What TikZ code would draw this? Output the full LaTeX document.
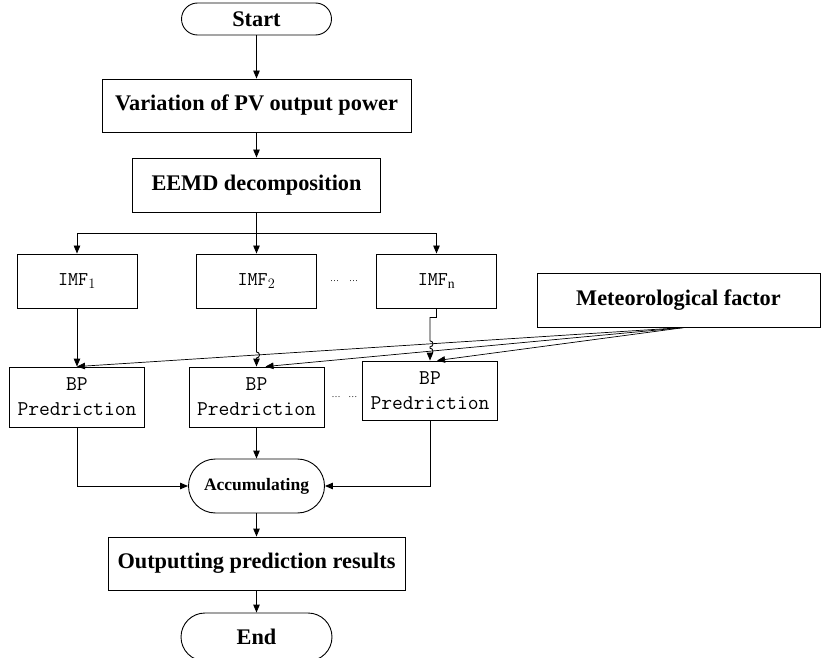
\documentclass[tikz,border=0pt]{standalone}
\usepackage{fontspec}
\setmainfont{Liberation Serif}
\usetikzlibrary{arrows.meta,positioning,calc}
\tikzstyle{term}=[rectangle,draw,inner sep=0pt,font=\bfseries\fontsize{22.3}{26}\selectfont]
\tikzstyle{proc}=[rectangle,draw,inner sep=0pt,font=\bfseries\fontsize{22.3}{26}\selectfont]
\tikzstyle{imf}=[rectangle,draw,inner sep=0pt,minimum width=120pt,minimum height=54pt,font=\ttfamily\fontsize{19.5}{22}\selectfont]
\tikzstyle{bp}=[rectangle,draw,inner sep=0pt,minimum width=135pt,minimum height=60pt,align=center,font=\ttfamily\fontsize{21}{25}\selectfont]
\tikzstyle{dots}=[inner sep=0pt,font=\fontsize{9}{9}\selectfont]

\begin{document}
\begin{tikzpicture}[x=1pt,y=1pt,line width=0.9pt,>={Triangle[length=8pt,width=6.5pt]}]
  \useasboundingbox (0,0) rectangle (823,-658);
  \node[term,rounded corners=16pt,minimum width=150pt,minimum height=32pt] (start) at (256.5,-19) {Start};
  \node[proc,minimum width=309pt,minimum height=53pt] (var) [below of=start,node distance=86.5pt] {Variation of PV output power};
  \node[proc,minimum width=248pt,minimum height=54pt] (eemd) [below of=var,node distance=79.5pt] {EEMD decomposition};
  \node[imf] (imf2) [below of=eemd,node distance=96pt] {IMF$_2$};
  \node[imf] (imf1) [left of=imf2,node distance=179.5pt] {IMF$_1$};
  \node[imf] (imfn) [right of=imf2,node distance=180pt] {IMF$_{\mathrm{n}}$};
  \node[dots] (dots1) [right of=imf2,node distance=87.5pt] {\dots\hspace{10pt}\dots};
  \node[proc,minimum width=283pt,minimum height=54pt] (met) [right of=imfn,node distance=242pt,yshift=-19pt] {Meteorological factor};

  \node[bp] (bp2) [below of=imf2,node distance=116pt] {BP\\Predriction};
  \node[bp] (bp1) [below of=imf1,node distance=116pt] {BP\\Predriction};
  \node[bp,minimum height=59pt] (bpn) [below of=imfn,node distance=109.5pt,xshift=-6.5pt] {BP\\Predriction};
  \node[dots] (dots2) [right of=bp2,node distance=88pt] {\dots\hspace{8pt}\dots};

  \node[term,rounded corners=27pt,minimum width=136pt,minimum height=54pt,font=\bfseries\fontsize{17.5}{20}\selectfont] (acc) [below of=bp2,node distance=89pt] {Accumulating};
  \node[proc,minimum width=297pt,minimum height=53pt] (out) [below of=acc,node distance=77.5pt] {Outputting prediction results};
  \node[term,rounded corners=24pt,minimum width=151pt,minimum height=48pt] (end) [below of=out,node distance=73.5pt] {End};

  % main column
  \draw[->] (start) -- (var);
  \draw[->] (var) -- (eemd);
  \draw[->] (eemd) -- (imf2);
  \coordinate (split) at ($(eemd.south)!0.5!(imf2.north)$);
  \draw[->] (split) -| (imf1);
  \draw[->] (split) -| (imfn);

  % meteorological inputs
  \coordinate (metout) at ($(met.south)+(6.5,0)$);
  \coordinate (bp1in) at (bp1.north);
  \coordinate (bp2in) at ($(bp2.north)+(9,0)$);
  \coordinate (bpnin) at ($(bpn.north)+(7,0)$);
  \draw[->,line width=0.7pt] (metout) -- (bp1in);
  \draw[->,line width=0.7pt] (metout) -- (bp2in);
  \draw[->,line width=0.7pt] (metout) -- (bpnin);

  % IMF to BP, with hops
  \draw[->] (imf1.south) -- (bp1.north);
  \coordinate (imf2out) at (imf2.south);
  \coordinate (bp2top) at (bp2.north);
  \coordinate (h2) at (intersection of imf2out--bp2top and metout--bp1in);
  \draw[->] (imf2out) -- ($(h2)+(0,3)$) arc[start angle=90,end angle=-90,radius=3] -- (bp2top);
  \coordinate (jog) at ($(imfn.south)+(0,-9)$);
  \coordinate (jogb) at (bpn.north |- jog);
  \coordinate (bpntop) at (bpn.north);
  \coordinate (hn1) at (intersection of jogb--bpntop and metout--bp1in);
  \coordinate (hn2) at (intersection of jogb--bpntop and metout--bp2in);
  \draw[->] (imfn.south) -- (jog) -- (jogb) -- ($(hn1)+(0,3)$) arc[start angle=90,end angle=-90,radius=3]
    -- ($(hn2)+(0,3)$) arc[start angle=90,end angle=-90,radius=3] -- (bpntop);

  % accumulate
  \draw[->] (bp2) -- (acc);
  \draw[->] (bp1.south) |- (acc.west);
  \draw[->] (bpn.south) |- (acc.east);
  \draw[->] (acc) -- (out);
  \draw[->] (out) -- (end);
\end{tikzpicture}
\end{document}
